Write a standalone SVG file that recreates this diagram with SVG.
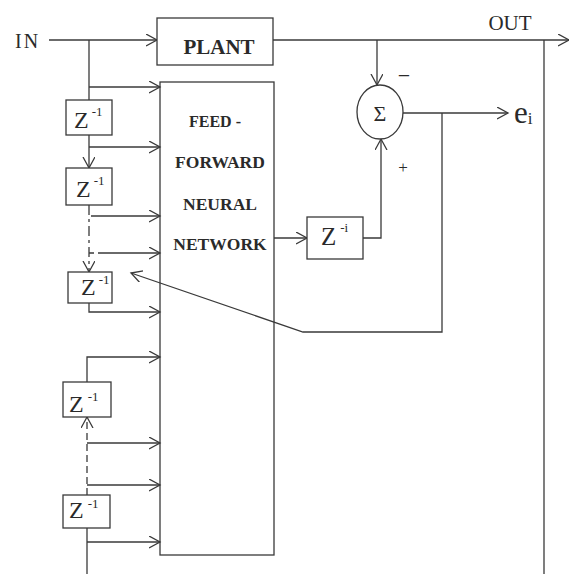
<svg xmlns="http://www.w3.org/2000/svg" width="569" height="574" viewBox="0 0 569 574">
<defs>
<marker id="ah" markerUnits="userSpaceOnUse" markerWidth="14" markerHeight="14" refX="11" refY="6" orient="auto">
<path d="M0,0 L11,6 L0,12" fill="none" stroke="#3a3a3a" stroke-width="1.3"/>
</marker>
<style>
.ln{fill:none;stroke:#3a3a3a;stroke-width:1.3}
.bx{fill:#fff;stroke:#3a3a3a;stroke-width:1.3}
.dd{stroke-dasharray:10,4,3,4}
.ds{stroke-dasharray:7,4}
.t{font-family:"Liberation Serif","Times New Roman",serif;fill:#2a2a2a}
.b{font-weight:bold}
.z{font-size:24px}
.sp{font-size:13px}
</style>
</defs>
<rect width="569" height="574" fill="#fff"/>

<g id="connectors">
<path class="ln" d="M49,40 H157" marker-end="url(#ah)"/>
<path class="ln" d="M273,40 H569" marker-end="url(#ah)"/>
<path class="ln" d="M544,40 V574"/>
<path class="ln" d="M89,40 V100"/>
<path class="ln" d="M89,87 H160" marker-end="url(#ah)"/>
<path class="ln" d="M89,135 V168" marker-end="url(#ah)"/>
<path class="ln" d="M89,147 H160" marker-end="url(#ah)"/>
<path class="ln dd" d="M89,205 V272" marker-end="url(#ah)"/>
<path class="ln" d="M91,216 H160" marker-end="url(#ah)"/>
<path class="ln" d="M89,253 H94 M98,253 H160" marker-end="url(#ah)"/>
<path class="ln" d="M89,303 V312 H160" marker-end="url(#ah)"/>
<path class="ln" d="M87,382 V357 H160" marker-end="url(#ah)"/>
<path class="ln ds" d="M87,495 V417" marker-end="url(#ah)"/>
<path class="ln" d="M87,443 H160" marker-end="url(#ah)"/>
<path class="ln" d="M87,485 H160" marker-end="url(#ah)"/>
<path class="ln" d="M87,528 V574"/>
<path class="ln" d="M87,542 H160" marker-end="url(#ah)"/>
<path class="ln" d="M377,40 V85" marker-end="url(#ah)"/>
<path class="ln" d="M274,238 H307" marker-end="url(#ah)"/>
<path class="ln" d="M363,238 H381 V139" marker-end="url(#ah)"/>
<path class="ln" d="M403,113 H508" marker-end="url(#ah)"/>
<path class="ln" d="M442,113 V332 H303 L131,273" marker-end="url(#ah)"/>
</g>

<g id="in-label"><text class="t" x="15" y="48" font-size="20" letter-spacing="2">IN</text></g>
<g id="out-label"><text class="t" x="510" y="30" font-size="21" text-anchor="middle">OUT</text></g>

<g id="plant">
<rect class="bx" x="157" y="18" width="116" height="47"/>
<text class="t b" x="219" y="54" font-size="21" text-anchor="middle">PLANT</text>
</g>

<g id="ffnn">
<rect class="ln" x="160" y="82" width="114" height="473"/>
<text class="t b" x="215" y="127" font-size="16" text-anchor="middle">FEED -</text>
<text class="t b" x="220" y="168" font-size="17.5" text-anchor="middle">FORWARD</text>
<text class="t b" x="220" y="210" font-size="17.5" text-anchor="middle">NEURAL</text>
<text class="t b" x="220" y="250" font-size="17.5" text-anchor="middle">NETWORK</text>
</g>

<g id="z1">
<rect class="bx" x="66" y="100" width="46" height="35"/>
<text class="t z" x="74" y="128">Z<tspan class="sp" dx="3" dy="-12">-1</tspan></text>
</g>
<g id="z2">
<rect class="bx" x="66" y="168" width="46" height="37"/>
<text class="t z" x="76" y="197">Z<tspan class="sp" dx="3" dy="-12">-1</tspan></text>
</g>
<g id="z3">
<rect class="bx" x="68" y="272" width="44" height="31"/>
<text class="t z" x="81" y="295">Z<tspan class="sp" dx="3" dy="-11">-1</tspan></text>
</g>
<g id="z4">
<rect class="bx" x="63" y="382" width="48" height="35"/>
<text class="t z" x="69" y="412">Z<tspan class="sp" dx="4" dy="-11">-1</tspan></text>
</g>
<g id="z5">
<rect class="bx" x="63" y="495" width="47" height="33"/>
<text class="t z" x="69" y="518">Z<tspan class="sp" dx="4" dy="-10">-1</tspan></text>
</g>
<g id="zi">
<rect class="bx" x="307" y="217" width="56" height="42"/>
<text class="t" x="321" y="245" font-size="25">Z<tspan class="sp" dx="4" dy="-13">-i</tspan></text>
</g>

<g id="sum">
<ellipse class="bx" cx="380" cy="112" rx="23" ry="27"/>
<text class="t" x="380" y="121" font-size="22" text-anchor="middle">Σ</text>
<text class="t" x="404" y="83" font-size="22" text-anchor="middle">−</text>
<text class="t" x="403" y="173" font-size="17" text-anchor="middle">+</text>
</g>

<g id="ei-label"><text class="t" x="514" y="123" font-size="31">e<tspan font-size="17" dy="1">i</tspan></text></g>
</svg>
